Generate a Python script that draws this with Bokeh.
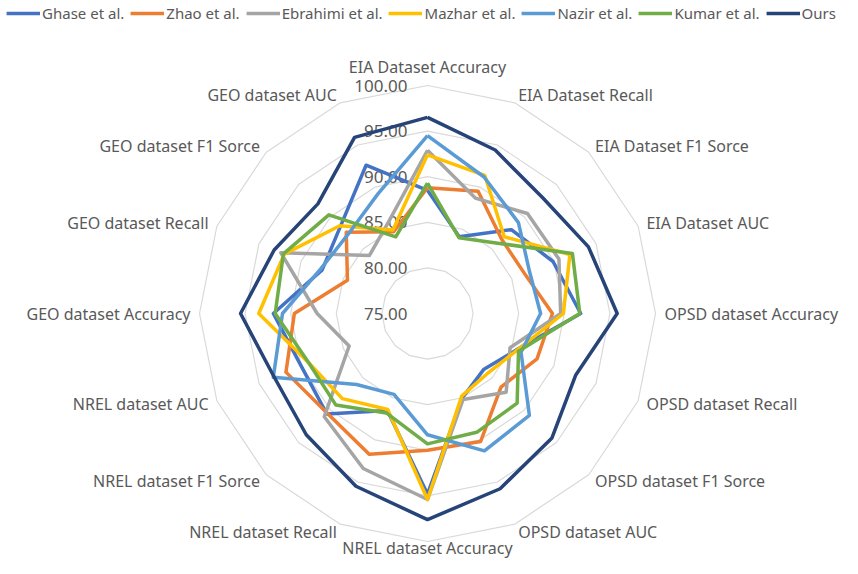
import numpy as np
from bokeh.plotting import figure
from bokeh.models import Range1d, Legend, LegendItem
from bokeh.embed import file_html
from bokeh.resources import INLINE
from bokeh.core.properties import value

# ---------------- data ----------------
categories = [
    "EIA Dataset Accuracy", "EIA Dataset Recall", "EIA Dataset F1 Sorce", "EIA Dataset AUC",
    "OPSD dataset Accuracy", "OPSD dataset Recall", "OPSD dataset F1 Sorce", "OPSD dataset AUC",
    "NREL dataset Accuracy", "NREL dataset Recall", "NREL dataset F1 Sorce", "NREL dataset AUC",
    "GEO dataset Accuracy", "GEO dataset Recall", "GEO dataset F1 Sorce", "GEO dataset AUC",
]
ghase    = [88.5, 84.1, 88.0, 89.9, 91.8, 85.5, 83.7, 85.0, 94.8, 86.5, 90.6, 90.0, 91.9, 87.5, 88.5, 92.6]
zhao     = [88.8, 89.5, 86.5, 86.5, 88.7, 88.0, 86.4, 90.2, 90.0, 91.7, 90.5, 91.8, 89.6, 84.5, 87.6, 84.7]
ebrahimi = [92.9, 88.7, 90.5, 90.6, 89.6, 84.8, 87.2, 85.2, 95.4, 93.4, 91.0, 84.3, 87.1, 92.4, 84.0, 86.0]
mazhar   = [92.4, 91.4, 86.9, 91.9, 89.9, 85.6, 84.3, 84.8, 95.4, 86.4, 88.2, 89.1, 93.5, 92.0, 88.6, 84.9]
nazir    = [94.5, 91.2, 89.1, 87.1, 87.4, 86.1, 90.8, 91.3, 88.3, 84.6, 86.0, 93.3, 90.9, 87.7, 87.3, 89.2]
kumar    = [89.3, 84.0, 85.9, 92.2, 91.7, 85.8, 88.9, 89.1, 89.3, 86.8, 89.2, 89.1, 91.7, 92.1, 90.3, 84.1]
ours     = [96.5, 94.4, 92.9, 94.1, 95.8, 92.6, 94.3, 95.8, 97.6, 95.5, 93.8, 93.2, 95.5, 93.2, 92.0, 95.9]

series_names = ["Ghase et al.", "Zhao et al.", "Ebrahimi et al.", "Mazhar et al.",
                "Nazir et al.", "Kumar et al.", "Ours"]
series_values = [ghase, zhao, ebrahimi, mazhar, nazir, kumar, ours]
series_colors = ["#4472C4", "#ED7D31", "#A5A5A5", "#FFC000", "#5B9BD5", "#70AD47", "#264478"]

tick_values = [75, 80, 85, 90, 95, 100]
tick_labels = ["75.00", "80.00", "85.00", "90.00", "95.00", "100.00"]

# ---------------- layout ----------------
R_MIN = 75
PX = 9.12            # pixels per value unit
W, H = 842, 558
CX, CY = 427, 313    # centre in figure pixels (from left / top)
FONT = "Noto Sans"
TXT = "#595959"

p = figure(width=W, height=H, output_backend="svg", toolbar_location=None,
           x_range=Range1d(-CX / PX, (W - CX) / PX),
           y_range=Range1d(-(H - CY) / PX, CY / PX),
           x_axis_type=None, y_axis_type=None, min_border=0,
           outline_line_color=None, background_fill_color="white")
p.grid.visible = False

n = len(categories)
ang = np.arange(n) * 2 * np.pi / n
s, c = np.sin(ang), np.cos(ang)

# grid polygons
for t in tick_values[1:]:
    r = t - R_MIN
    xs = list(r * s) + [r * s[0]]
    ys = list(r * c) + [r * c[0]]
    p.line(xs, ys, line_color="#D9D9D9", line_width=1.2)

# radial tick labels
p.text(x=[-20 / PX] * len(tick_values), y=[t - R_MIN for t in tick_values], text=tick_labels,
       text_align="right", text_baseline="middle", text_font=value(FONT),
       text_font_size="17px", text_color=TXT)

# category labels
groups = {}
for k, name in enumerate(categories):
    if abs(s[k]) < 0.1:
        R = (247 if c[k] > 0 else 234) / PX
        key = ("center", "middle")
    else:
        R = 237 / PX
        key = ("left" if s[k] > 0 else "right", "middle")
    g = groups.setdefault(key, ([], [], []))
    g[0].append(R * s[k]); g[1].append(R * c[k]); g[2].append(name)
for (al, bl), (gx, gy, gt) in groups.items():
    p.text(x=gx, y=gy, text=gt, text_align=al, text_baseline=bl,
           text_font=value(FONT), text_font_size="16px", text_color=TXT)

# series
items = []
for name, vals, col in zip(series_names, series_values, series_colors):
    r = np.array(vals) - R_MIN
    xs = list(r * s) + [r[0] * s[0]]
    ys = list(r * c) + [r[0] * c[0]]
    rend = p.line(xs, ys, line_color=col, line_width=3.5, line_join="round")
    items.append(LegendItem(label=name, renderers=[rend]))

legend = Legend(items=items, orientation="horizontal", location="top",
                glyph_width=34, glyph_height=14, label_standoff=2, spacing=6,
                padding=0, margin=3, border_line_color=None, background_fill_alpha=0,
                label_text_font=FONT, label_text_font_size="15px", label_text_color=TXT)
p.add_layout(legend)

open("out.html", "w").write(file_html(p, INLINE))
